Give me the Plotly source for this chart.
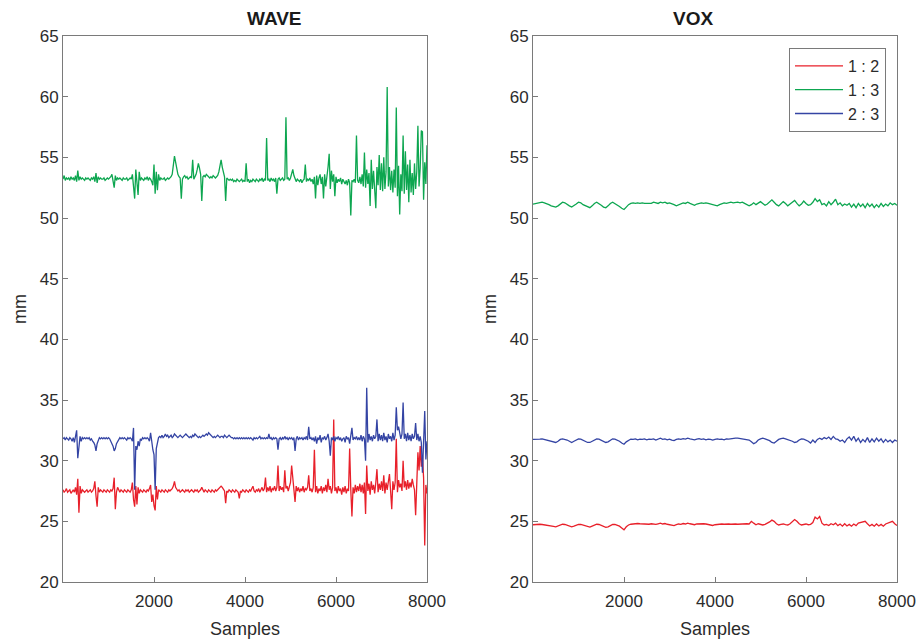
import plotly.graph_objects as go

series_names = ["1 : 2", "1 : 3", "2 : 3"]
x_ticks = [2000, 4000, 6000, 8000]
y_ticks = [20, 25, 30, 35, 40, 45, 50, 55, 60, 65]
wave_step = 25   # samples between listed WAVE values
vox_step = 50    # samples between listed VOX values

wave_12 = [
    27.6, 27.4, 27.5, 27.7, 27.4, 27.5, 27.6, 27.3, 27.5, 27.6, 27.4, 27.8, 27.2, 28.5, 25.7, 27.9, 27.3, 27.6, 27.5, 27.4,
    27.5, 27.6, 27.4, 27.5, 27.6, 27.4, 27.5, 27.7, 28.3, 27.1, 26.2, 27.8, 27.4, 27.6, 27.5, 27.4, 27.6, 27.5, 27.4, 27.6,
    27.5, 27.4, 27.6, 27.5, 27.7, 28.6, 26.0, 27.4, 27.8, 27.5, 27.4, 27.6, 27.5, 27.4, 27.6, 27.5, 27.4, 27.6, 27.5, 27.4,
    27.6, 28.2, 26.8, 26.2, 27.9, 26.4, 27.8, 27.3, 27.6, 27.5, 27.4, 27.6, 27.5, 27.4, 27.6, 27.5, 27.7, 28.0, 26.6, 27.2,
    26.3, 25.9, 27.9, 26.8, 27.6, 27.5, 27.4, 27.6, 27.5, 27.4, 27.6, 27.5, 27.4, 27.6, 27.5, 27.6, 27.7, 27.9, 28.3, 27.8,
    27.6, 27.5, 27.6, 27.4, 27.5, 27.6, 27.5, 27.4, 27.6, 27.5, 27.6, 27.4, 27.5, 27.6, 27.5, 27.4, 27.6, 27.5, 27.6, 27.4,
    27.5, 27.6, 27.8, 27.5, 27.4, 27.6, 27.5, 27.4, 27.6, 27.5, 27.4, 27.6, 27.5, 27.4, 27.6, 27.5, 27.6, 27.7, 27.8, 27.9,
    27.8, 27.6, 27.5, 26.5, 27.5, 27.4, 27.6, 27.5, 27.4, 27.6, 27.5, 27.4, 27.6, 27.5, 27.4, 26.9, 27.5, 27.4, 27.6, 27.5,
    27.4, 27.6, 27.5, 27.4, 27.6, 27.5, 27.7, 27.9, 27.5, 27.4, 27.6, 27.5, 27.7, 27.4, 27.6, 27.8, 27.5, 27.7, 28.6, 27.4,
    27.8, 27.5, 27.9, 27.4, 27.7, 27.6, 27.9, 27.5, 27.8, 29.6, 27.5, 27.9, 27.6, 27.8, 27.4, 29.2, 27.7, 27.9, 27.5, 27.8,
    28.2, 29.6, 28.4, 27.7, 26.6, 27.9, 27.5, 27.8, 27.4, 27.7, 27.5, 27.9, 27.4, 27.7, 27.6, 27.8, 28.8, 27.5, 27.7, 27.4,
    27.8, 30.9, 27.4, 27.9, 27.3, 27.7, 27.5, 27.9, 27.3, 27.8, 27.5, 28.0, 27.4, 28.5, 27.6, 27.9, 27.3, 27.8, 33.4, 27.5,
    27.8, 27.3, 27.9, 27.5, 27.7, 27.2, 27.8, 27.4, 27.9, 27.3, 27.7, 27.5, 31.0, 27.6, 25.4, 27.8, 27.3, 28.0, 27.4, 27.9,
    27.5, 28.1, 27.4, 28.0, 27.3, 28.2, 25.6, 29.6, 27.5, 28.1, 27.2, 28.3, 27.6, 28.0, 27.3, 28.2, 29.3, 27.4, 28.1, 27.6,
    28.3, 27.5, 28.8, 27.3, 28.2, 27.6, 28.4, 28.9, 27.5, 26.0, 28.3, 27.6, 28.2, 31.8, 27.4, 28.4, 27.8, 28.1, 27.5, 30.0,
    27.8, 28.3, 27.6, 28.4, 27.7, 28.2, 27.8, 28.5, 28.0, 27.6, 25.5, 28.6, 30.7, 29.2, 31.2, 29.5, 30.4, 28.6, 23.0, 28.0,
    27.3]

wave_13 = [
    53.2, 53.5, 53.1, 53.3, 53.2, 53.3, 53.1, 53.4, 53.2, 53.3, 53.1, 53.5, 53.0, 53.9, 53.1, 53.4, 53.2, 53.3, 53.2, 53.1,
    53.3, 53.2, 53.3, 53.2, 53.1, 53.3, 53.2, 53.4, 53.0, 53.7, 52.9, 53.4, 53.2, 53.3, 53.2, 53.2, 53.3, 53.1, 53.2, 53.3,
    53.2, 53.3, 53.4, 53.6, 53.0, 52.5, 53.5, 53.1, 53.3, 53.2, 53.3, 53.2, 53.1, 53.3, 53.2, 53.2, 53.3, 53.1, 53.2, 53.3,
    53.2, 53.6, 52.6, 51.6, 54.0, 52.8, 51.9, 53.8, 53.1, 53.3, 53.2, 53.1, 53.3, 53.2, 53.4, 53.1, 53.3, 53.2, 53.0, 52.7,
    54.4, 52.0, 53.8, 52.3, 53.6, 53.1, 53.3, 53.2, 53.2, 53.3, 53.1, 53.2, 53.3, 53.2, 53.3, 53.4, 53.6, 54.3, 55.1, 54.6,
    54.0, 53.6, 53.4, 53.3, 51.6, 53.2, 53.4, 53.5, 53.3, 53.4, 53.2, 53.3, 53.4, 53.3, 54.8, 53.2, 53.4, 53.6, 54.0, 54.5,
    54.1, 53.6, 51.4, 53.4, 53.5, 53.4, 53.6, 53.5, 53.4, 53.3, 53.4, 53.3, 53.5, 53.4, 53.3, 53.4, 53.5, 53.8, 54.3, 54.8,
    54.2, 53.7, 53.4, 51.4, 53.3, 53.2, 53.1, 53.2, 53.1, 53.2, 53.0, 53.1, 53.0, 53.2, 53.1, 53.0, 53.1, 53.2, 53.0, 53.1,
    53.0, 54.5, 53.0, 53.2, 52.9, 53.1, 53.0, 53.2, 53.1, 53.0, 53.2, 53.1, 53.0, 53.2, 53.1, 53.3, 53.0, 53.2, 53.1, 56.6,
    53.1, 53.2, 53.0, 53.3, 53.1, 53.2, 53.0, 53.3, 52.0, 53.2, 53.3, 53.1, 53.2, 53.3, 53.1, 53.2, 58.3, 53.2, 53.3, 53.1,
    53.3, 53.6, 54.0, 53.5, 53.2, 53.0, 53.2, 53.1, 53.0, 53.2, 52.9, 53.1, 53.2, 54.4, 53.0, 53.2, 53.1, 53.3, 53.0, 53.2,
    52.8, 53.4, 51.6, 53.5, 52.7, 53.3, 53.6, 52.8, 53.4, 51.6, 53.6, 52.6, 53.3, 54.2, 55.3, 52.4, 53.9, 53.0, 53.6, 51.8,
    53.4, 52.9, 53.2, 53.0, 53.3, 52.8, 53.2, 53.0, 52.8, 53.1, 52.7, 53.2, 52.9, 50.2, 53.1, 53.0, 53.2, 52.9, 56.8, 53.1,
    52.9, 53.4, 52.8, 53.6, 52.6, 55.4, 52.5, 54.0, 52.8, 53.7, 51.0, 54.8, 52.4, 53.9, 52.6, 50.8, 54.2, 52.7, 55.2, 52.3,
    54.5, 52.2, 55.0, 52.4, 53.8, 60.8, 52.6, 54.2, 52.3, 53.9, 52.1, 54.0, 52.5, 59.1, 51.8, 54.3, 50.3, 53.6, 52.2, 56.8,
    52.0, 55.5, 52.3, 54.4, 51.3, 54.8, 52.1, 53.7, 51.9, 54.5, 52.4, 53.8, 57.6, 52.6, 54.1, 57.2, 57.1, 51.5, 54.6, 52.8,
    56.0]

wave_23 = [
    31.8, 31.9, 31.7, 31.9, 31.8, 31.7, 31.9, 31.8, 31.6, 31.9, 31.5, 32.1, 32.5, 30.2, 31.4, 32.0, 31.6, 31.9, 31.8, 31.9,
    31.8, 31.9, 31.8, 31.9, 31.7, 31.8, 31.6, 31.5, 31.3, 30.8, 31.4, 31.7, 31.9, 31.8, 31.9, 31.8, 31.9, 31.8, 31.9, 31.8,
    31.9, 31.8, 31.6, 31.4, 31.2, 30.8, 31.0, 31.4, 31.6, 31.8, 31.9, 31.8, 31.9, 31.8, 31.9, 31.8, 31.7, 31.9, 31.8, 31.9,
    31.8, 31.6, 32.7, 27.6, 31.2, 30.9, 31.6, 31.2, 31.8, 31.7, 31.9, 31.8, 31.9, 31.8, 31.9, 31.8, 31.6, 32.3, 31.4, 30.9,
    30.5, 27.6, 31.0, 31.6, 31.9, 32.0, 31.9, 32.1, 31.9, 32.0, 32.2, 32.0, 32.1, 31.9, 32.0, 32.1, 31.9, 32.0, 32.2, 32.1,
    32.0, 31.9, 32.0, 32.1, 32.0, 31.9, 32.0, 32.1, 32.2, 32.1, 32.0, 31.9, 32.0, 31.9, 32.1, 32.0, 32.2, 32.1, 32.0, 31.9,
    32.0, 31.9, 32.0, 32.1, 32.0, 32.1, 32.2, 32.1, 32.3, 32.2, 32.1, 32.0, 31.9, 32.0, 31.9, 32.0, 32.1, 32.0, 31.9, 32.0,
    32.0, 31.9, 32.1, 32.0, 31.9, 32.0, 32.1, 32.0, 31.9, 31.9, 31.8, 31.9, 31.8, 31.9, 31.8, 31.9, 31.8, 31.9, 31.8, 31.9,
    31.8, 31.9, 31.8, 31.9, 31.8, 31.9, 31.8, 31.7, 31.9, 31.8, 31.9, 31.8, 31.9, 32.0, 31.8, 31.9, 31.8, 31.9, 31.8, 31.9,
    31.8, 32.2, 31.8, 31.9, 31.7, 31.9, 31.8, 31.9, 31.8, 30.9, 31.8, 31.9, 31.7, 31.9, 31.8, 32.0, 31.8, 31.9, 31.7, 31.9,
    31.8, 31.9, 31.7, 31.9, 30.8, 31.8, 32.0, 31.7, 31.9, 31.8, 31.9, 31.7, 31.9, 31.8, 32.0, 31.7, 32.8, 31.8, 31.9, 31.7,
    31.9, 31.6, 32.0, 31.4, 31.9, 31.7, 32.1, 31.5, 31.9, 31.8, 32.0, 31.7, 31.9, 32.2, 31.6, 30.4, 31.9, 31.7, 32.0, 31.6,
    31.9, 31.8, 32.0, 31.7, 31.9, 31.6, 31.8, 31.9, 31.5, 32.0, 31.8, 31.9, 31.4, 32.1, 32.7, 31.7, 31.9, 31.8, 32.0, 31.7,
    31.9, 31.7, 32.1, 31.6, 32.0, 31.8, 30.0, 36.0, 31.5, 32.2, 31.7, 32.0, 31.6, 32.1, 31.8, 32.0, 33.4, 31.6, 32.2, 31.7,
    32.1, 31.6, 32.3, 31.7, 32.0, 31.5, 32.2, 31.8, 32.0, 31.6, 32.3, 31.7, 32.1, 34.4, 32.5, 32.8, 32.4, 31.8, 32.2, 34.8,
    31.8, 32.2, 31.6, 32.3, 31.7, 32.1, 31.6, 32.2, 31.8, 32.0, 33.1, 31.7, 32.2, 31.6, 32.0, 31.5, 29.0, 31.4, 34.1, 30.1,
    31.6]

vox_12 = [24.72, 24.75, 24.73, 24.76, 24.74, 24.72, 24.7, 24.65, 24.6, 24.58, 24.55, 24.62, 24.72, 24.76,
          24.74, 24.68, 24.6, 24.55, 24.6, 24.7, 24.75, 24.74, 24.68, 24.6, 24.55, 24.52, 24.6, 24.7, 24.76,
          24.74, 24.68, 24.6, 24.5, 24.55, 24.68, 24.75, 24.74, 24.68, 24.6, 24.45, 24.3, 24.55, 24.7, 24.76,
          24.8, 24.78, 24.82, 24.8, 24.78, 24.82, 24.8, 24.76, 24.8, 24.78, 24.75, 24.8, 24.85, 24.78, 24.82,
          24.76, 24.74, 24.7, 24.65, 24.72, 24.78, 24.75, 24.82, 24.78, 24.85, 24.8, 24.75, 24.72, 24.78,
          24.8, 24.76, 24.8, 24.78, 24.74, 24.7, 24.66, 24.72, 24.76, 24.74, 24.78, 24.76, 24.8, 24.78, 24.76,
          24.8, 24.78, 24.76, 24.78, 24.75, 24.78, 24.8, 24.78, 25.0, 24.85, 24.72, 24.8, 24.78, 24.7, 24.75,
          24.82, 24.95, 25.1, 25.0, 24.8, 24.7, 24.75, 24.78, 24.72, 24.7, 24.8, 24.95, 25.15, 25.0, 24.8,
          24.7, 24.76, 24.78, 24.72, 24.75, 24.9, 25.35, 25.2, 25.4, 24.85, 24.7, 24.75, 24.65, 24.8, 24.72,
          24.85, 24.65, 24.78, 24.6, 24.8, 24.62, 24.75, 24.6, 24.78, 24.65, 24.85, 24.9, 24.95, 25.0, 24.8,
          24.62, 24.75, 24.6, 24.78, 24.62, 24.75, 24.6, 24.78, 24.85, 24.95, 25.0, 24.8, 24.65]

vox_13 = [51.15, 51.2, 51.2, 51.25, 51.3, 51.25, 51.2, 51.1, 51.0, 50.95, 50.9, 51.0, 51.15, 51.3, 51.25,
          51.1, 51.0, 50.9, 51.0, 51.15, 51.3, 51.25, 51.1, 51.0, 50.9, 50.85, 51.0, 51.2, 51.3, 51.2, 51.05,
          50.9, 50.85, 51.0, 51.2, 51.3, 51.2, 51.05, 50.95, 50.8, 50.7, 50.9, 51.1, 51.2, 51.25, 51.2, 51.25,
          51.2, 51.25, 51.2, 51.2, 51.25, 51.2, 51.3, 51.25, 51.2, 51.3, 51.25, 51.3, 51.2, 51.25, 51.2, 51.1,
          51.0, 51.1, 51.2, 51.25, 51.2, 51.3, 51.2, 51.15, 51.05, 51.15, 51.2, 51.25, 51.2, 51.25, 51.2,
          51.15, 51.1, 51.05, 51.0, 51.1, 51.2, 51.25, 51.2, 51.25, 51.3, 51.25, 51.3, 51.3, 51.25, 51.3,
          51.2, 51.1, 51.0, 51.1, 51.25, 51.1, 51.2, 51.35, 51.2, 51.05, 51.15, 51.35, 51.5, 51.3, 51.1, 51.0,
          51.15, 51.35, 51.2, 51.0, 51.15, 51.3, 51.45, 51.2, 51.0, 51.15, 51.4, 51.2, 51.05, 51.1, 51.3,
          51.6, 51.35, 51.5, 51.1, 51.2, 51.0, 51.35, 51.1, 51.3, 51.55, 51.1, 51.25, 51.0, 51.15, 51.05,
          51.2, 50.9, 51.15, 50.85, 51.2, 50.95, 51.15, 50.85, 51.2, 50.95, 51.15, 50.85, 51.1, 50.9, 51.2,
          50.95, 51.15, 51.0, 51.25, 51.1, 51.2, 51.05]

vox_23 = [31.75, 31.78, 31.8, 31.78, 31.8, 31.75, 31.7, 31.65, 31.6, 31.55, 31.5, 31.6, 31.75, 31.8, 31.78,
          31.7, 31.6, 31.5, 31.6, 31.72, 31.8, 31.78, 31.7, 31.6, 31.5, 31.5, 31.6, 31.75, 31.8, 31.78, 31.7,
          31.6, 31.5, 31.55, 31.7, 31.8, 31.78, 31.7, 31.6, 31.45, 31.35, 31.55, 31.7, 31.78, 31.75, 31.8,
          31.72, 31.78, 31.75, 31.8, 31.72, 31.78, 31.75, 31.8, 31.7, 31.78, 31.85, 31.75, 31.8, 31.72, 31.78,
          31.7, 31.65, 31.75, 31.8, 31.75, 31.82, 31.78, 31.85, 31.8, 31.75, 31.72, 31.78, 31.82, 31.75, 31.8,
          31.72, 31.78, 31.75, 31.7, 31.75, 31.8, 31.75, 31.78, 31.72, 31.8, 31.78, 31.82, 31.8, 31.85, 31.85,
          31.82, 31.85, 31.8, 31.78, 31.7, 31.55, 31.4, 31.5, 31.7, 31.8, 31.85, 31.8, 31.75, 31.65, 31.5,
          31.45, 31.6, 31.75, 31.82, 31.85, 31.8, 31.75, 31.7, 31.6, 31.5, 31.55, 31.7, 31.8, 31.78, 31.7,
          31.6, 31.45, 31.7, 31.5, 31.75, 31.85, 31.75, 31.9, 31.8, 31.95, 31.75, 32.0, 31.8, 31.75, 31.6,
          31.7, 31.5, 31.8, 31.95, 31.7, 32.0, 31.6, 31.85, 31.5, 31.75, 31.55, 31.9, 31.5, 31.8, 31.55, 31.85,
          31.6, 31.8, 31.5, 31.75, 31.55, 31.7, 31.5, 31.7, 31.6]

colors = ["#E8202A", "#0DA650", "#3444A4"]
FONT = "Liberation Sans, Arial, Helvetica, sans-serif"
AX = "#7a7a7a"
TXT = "#2b2b2b"

fig = go.Figure()
for data, name, col in zip([wave_12, wave_13, wave_23], series_names, colors):
    fig.add_trace(go.Scatter(x=[wave_step * i for i in range(len(data))], y=data, mode="lines",
                             name=name, line=dict(color=col, width=1.3), xaxis="x", yaxis="y",
                             showlegend=False))
for data, name, col in zip([vox_12, vox_13, vox_23], series_names, colors):
    fig.add_trace(go.Scatter(x=[vox_step * i for i in range(len(data))], y=data, mode="lines",
                             name=name, line=dict(color=col, width=1.3), xaxis="x2", yaxis="y2",
                             showlegend=True))

W, H = 922, 641
d1 = [63 / W, 427 / W]
d2 = [533 / W, 897 / W]
dy = [1 - 582 / H, 1 - 36 / H]

def xax(domain, anchor):
    return dict(domain=domain, anchor=anchor, range=[0, 8000], tickvals=x_ticks,
                ticktext=[str(v) for v in x_ticks], showline=True, mirror=True,
                linecolor=AX, linewidth=1, ticks="inside", ticklen=5, tickcolor=AX,
                showgrid=False, zeroline=False, automargin=False, ticklabelstandoff=4,
                tickfont=dict(family=FONT, size=17, color=TXT),
                title=dict(text="Samples", font=dict(family=FONT, size=18, color=TXT), standoff=11))

def yax(domain, anchor):
    return dict(domain=domain, anchor=anchor, range=[20, 65], tickvals=y_ticks,
                showline=True, mirror=True, linecolor=AX, linewidth=1, ticks="inside",
                ticklen=5, tickcolor=AX, showgrid=False, zeroline=False, automargin=False,
                tickfont=dict(family=FONT, size=17, color=TXT),
                title=dict(text="mm", font=dict(family=FONT, size=18, color=TXT), standoff=8))

fig.update_layout(
    width=W, height=H, margin=dict(l=0, r=0, t=0, b=0),
    paper_bgcolor="white", plot_bgcolor="white",
    xaxis=xax(d1, "y"), yaxis=yax(dy, "x"),
    xaxis2=xax(d2, "y2"), yaxis2=yax(dy, "x2"),
    legend=dict(x=886 / W, y=1 - 48 / H, xanchor="right", yanchor="top",
                bgcolor="white", bordercolor=AX, borderwidth=1, itemwidth=48,
                font=dict(family=FONT, size=16, color=TXT), tracegroupgap=0),
    annotations=[
        dict(text="<b>WAVE</b>", x=(d1[0] + d1[1]) / 2, y=1 - 18 / H, xref="paper", yref="paper",
             yanchor="middle", showarrow=False, font=dict(family=FONT, size=19, color="#1a1a1a")),
        dict(text="<b>VOX</b>", x=(d2[0] + d2[1]) / 2, y=1 - 18 / H, xref="paper", yref="paper",
             yanchor="middle", showarrow=False, font=dict(family=FONT, size=19, color="#1a1a1a")),
    ],
)

fig.write_html("out.html", config={"displayModeBar": False})
with open("out.html", "r", encoding="utf-8") as f:
    html = f.read()
html = html.replace("<head>", "<head><style>html,body{margin:0;padding:0;overflow:hidden;}</style>", 1)
with open("out.html", "w", encoding="utf-8") as f:
    f.write(html)
